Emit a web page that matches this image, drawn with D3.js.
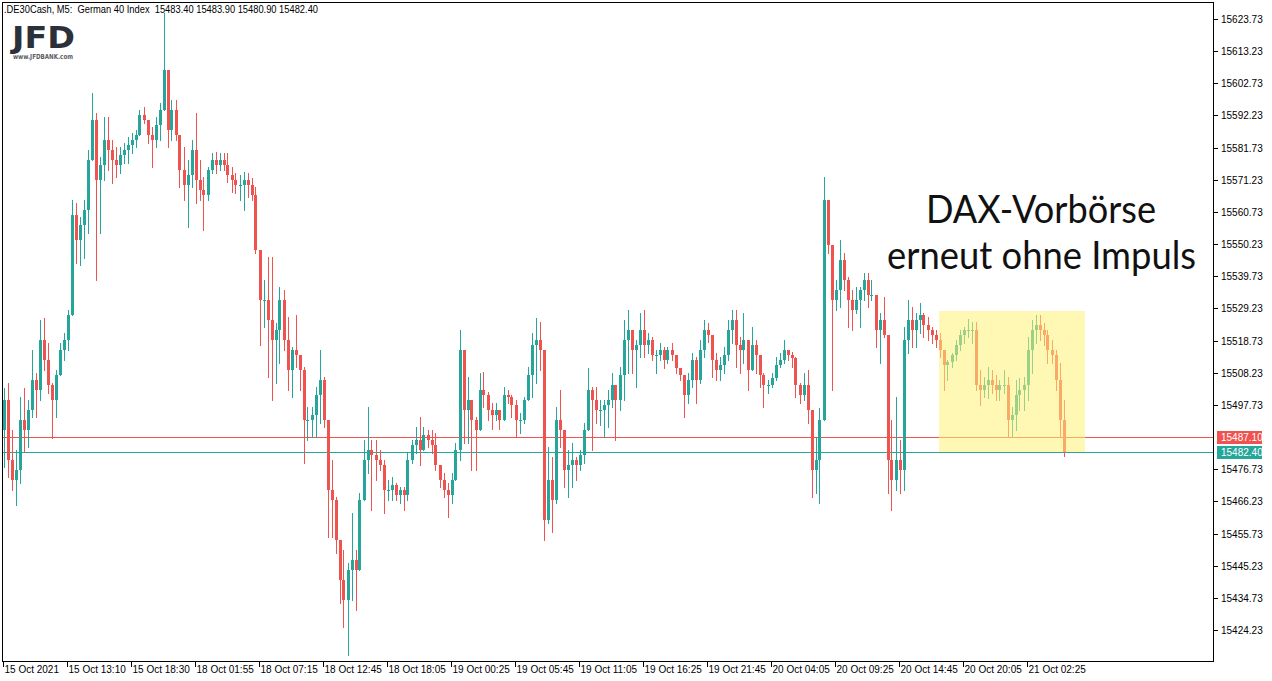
<!DOCTYPE html>
<html><head><meta charset="utf-8">
<script src="https://cdn.jsdelivr.net/npm/d3@7"></script>
<style>body{margin:0;background:#fff;} svg{display:block;}</style>
</head><body><svg id="c" width="1272" height="681"></svg>
<script>
// ---------- data ----------
const timeLabels = ["15 Oct 2021","15 Oct 13:10","15 Oct 18:30","18 Oct 01:55","18 Oct 07:15","18 Oct 12:45","18 Oct 18:05","19 Oct 00:25","19 Oct 05:45","19 Oct 11:05","19 Oct 16:25","19 Oct 21:45","20 Oct 04:05","20 Oct 09:25","20 Oct 14:45","20 Oct 20:05","21 Oct 02:25"];
const timeLabelBars = [0,64,128,192,256,320,384,448,512,576,640,704,768,832,896,960,1024];
const priceTicks = [15623.73,15613.23,15602.73,15592.23,15581.73,15571.23,15560.73,15550.23,15539.73,15529.23,15518.73,15508.23,15497.73,15476.73,15466.23,15455.73,15445.23,15434.73,15424.23];
const barsPerCandle = 4;
const firstOpen = 15489.5;
const highs = [
15503.3,15504.9,15489.5,15483.0,15500.3,15503.3,15499.3,15515.7,15508.1,15525.5,
15526.1,15517.9,15504.9,15509.1,15517.9,15521.2,15528.7,15564.6,15563.6,15559.1,
15564.6,15581.0,15599.5,15593.0,15578.7,15591.7,15591.7,15584.2,15581.9,15581.9,
15583.2,15585.2,15586.5,15587.5,15594.0,15595.0,15590.8,15588.5,15591.7,15596.3,
15625.7,15604.8,15597.3,15597.3,15584.2,15581.9,15577.7,15584.2,15593.0,15577.7,
15572.1,15575.4,15580.0,15580.3,15580.0,15580.0,15580.0,15575.4,15573.4,15572.8,
15573.8,15573.4,15571.8,15568.9,15548.3,15538.5,15546.0,15546.0,15524.5,15536.2,
15535.3,15526.4,15516.6,15527.1,15513.4,15510.1,15497.0,15497.0,15503.6,15515.7,
15506.8,15490.5,15479.7,15467.6,15452.6,15450.4,15446.1,15462.4,15450.4,15468.9,
15486.3,15497.0,15486.3,15486.3,15483.0,15479.7,15473.2,15474.2,15472.2,15470.9,
15470.9,15482.0,15486.3,15490.5,15493.8,15490.5,15489.5,15489.5,15488.5,15477.1,
15475.5,15472.2,15475.5,15485.3,15522.2,15514.7,15506.8,15498.3,15493.8,15508.1,
15508.5,15502.0,15498.3,15498.3,15496.1,15503.6,15502.6,15501.0,15499.3,15495.1,
15500.3,15510.1,15521.2,15526.1,15524.8,15515.7,15484.0,15480.7,15497.0,15502.6,
15487.2,15483.0,15485.3,15480.7,15483.0,15491.8,15509.8,15503.6,15503.6,15499.3,
15499.3,15502.6,15508.1,15503.6,15510.1,15525.5,15528.7,15522.2,15518.9,15527.7,
15528.7,15521.2,15519.9,15515.7,15517.9,15516.6,15516.6,15517.9,15511.4,15509.1,
15504.9,15508.1,15514.7,15513.4,15518.9,15525.5,15524.5,15516.6,15514.7,15513.4,
15516.6,15525.5,15528.7,15528.7,15519.9,15527.7,15516.6,15523.2,15518.9,15512.4,
15508.1,15505.9,15508.1,15513.4,15514.7,15518.9,15514.7,15515.0,15513.4,15504.9,
15508.1,15509.1,15496.1,15487.2,15496.7,15572.1,15564.6,15549.9,15538.5,15551.6,
15547.3,15539.5,15535.3,15536.2,15536.2,15540.8,15540.8,15538.5,15533.6,15527.7,
15532.9,15520.6,15492.8,15500.3,15486.3,15523.2,15532.0,15529.7,15527.7,15531.0,
15527.7,15526.4,15523.2,15522.2,15521.2,15515.7,15512.4,15514.7,15518.9,15522.2,
15523.2,15525.8,15524.8,15524.8,15509.1,15506.8,15510.1,15509.1,15507.5,15505.9,
15509.1,15506.8,15497.0,15505.9,15506.5,15506.8,15519.9,15525.5,15527.1,15527.1,
15524.5,15522.2,15518.9,15515.7,15511.4,15499.3];
const lows = [
15477.4,15474.2,15469.9,15465.1,15472.2,15482.4,15484.0,15493.8,15493.8,15499.3,
15509.1,15501.6,15486.9,15493.8,15509.1,15512.4,15515.7,15529.7,15544.0,15543.4,
15545.7,15553.8,15577.7,15538.5,15553.8,15571.2,15574.4,15570.2,15572.1,15573.4,
15576.7,15576.7,15580.0,15581.9,15586.5,15589.8,15583.2,15575.4,15581.9,15584.2,
15603.8,15581.9,15584.2,15584.2,15568.9,15564.6,15555.8,15568.9,15563.6,15564.6,
15554.8,15564.6,15573.4,15573.4,15574.4,15574.4,15570.5,15567.2,15566.9,15564.6,
15561.4,15565.6,15564.6,15547.3,15517.3,15523.2,15506.8,15499.3,15504.9,15511.4,
15515.7,15502.6,15500.3,15510.1,15502.6,15478.7,15486.3,15487.2,15487.2,15491.8,
15490.5,15454.6,15454.6,15449.4,15433.0,15425.2,15416.1,15434.0,15430.8,15444.8,
15467.6,15475.5,15463.4,15473.2,15476.5,15462.4,15466.7,15466.7,15466.7,15465.7,
15463.4,15466.7,15478.7,15482.0,15478.1,15483.0,15484.0,15482.0,15476.5,15470.9,
15467.6,15461.1,15465.7,15473.2,15479.7,15485.3,15485.3,15476.5,15476.5,15490.5,
15497.0,15492.8,15489.9,15492.8,15489.9,15496.1,15498.3,15493.8,15487.2,15488.5,
15491.8,15499.3,15500.3,15504.9,15509.1,15453.6,15459.1,15456.2,15465.7,15484.0,
15470.9,15467.6,15470.9,15473.2,15476.5,15478.7,15489.5,15483.0,15491.8,15491.2,
15487.2,15490.5,15497.0,15486.3,15496.1,15499.3,15508.1,15508.1,15503.6,15513.4,
15513.4,15514.7,15512.4,15508.1,15512.4,15509.8,15511.4,15512.4,15508.1,15505.9,
15493.8,15498.3,15503.6,15498.3,15504.9,15513.4,15518.3,15506.8,15505.9,15505.9,
15508.1,15512.4,15517.9,15510.1,15508.1,15511.4,15502.6,15513.4,15508.1,15503.6,
15497.0,15501.6,15503.6,15505.9,15510.1,15511.4,15512.4,15510.1,15500.3,15498.3,
15499.3,15491.8,15467.6,15468.9,15465.7,15492.8,15547.3,15502.6,15528.7,15529.7,
15535.3,15523.2,15522.2,15527.7,15523.2,15532.0,15529.7,15532.0,15516.6,15511.4,
15519.9,15468.9,15463.4,15469.9,15468.9,15469.9,15514.7,15516.6,15516.6,15521.2,
15519.9,15518.9,15517.9,15516.6,15513.4,15502.6,15505.9,15510.1,15512.4,15515.7,
15517.9,15519.9,15517.9,15502.6,15497.7,15500.3,15500.0,15501.6,15499.3,15499.3,
15501.6,15487.2,15487.2,15489.5,15496.1,15496.1,15499.3,15508.1,15517.9,15518.9,
15517.3,15511.4,15511.4,15502.6,15487.2,15480.9];
const closes = [
15499.3,15479.7,15473.2,15476.5,15492.8,15489.5,15496.1,15505.9,15502.6,15518.9,
15512.4,15504.3,15499.3,15507.5,15515.7,15518.9,15527.1,15559.8,15551.6,15556.5,
15561.4,15577.7,15590.8,15571.2,15576.1,15584.2,15581.0,15577.7,15576.1,15579.4,
15581.0,15582.6,15584.2,15585.9,15592.4,15590.8,15585.9,15584.2,15589.2,15594.0,
15607.1,15587.5,15594.0,15585.9,15574.4,15569.6,15572.8,15581.0,15571.2,15567.9,
15566.3,15574.4,15577.7,15576.1,15577.7,15576.1,15572.8,15571.2,15569.6,15569.6,
15571.2,15569.6,15566.3,15548.3,15532.0,15532.0,15525.5,15518.9,15522.2,15532.0,
15518.9,15509.1,15515.7,15514.1,15509.1,15492.8,15492.8,15494.5,15501.0,15505.9,
15492.8,15469.9,15466.7,15453.6,15440.6,15434.0,15443.8,15447.1,15443.8,15466.7,
15479.7,15483.0,15481.4,15479.7,15478.1,15469.9,15469.9,15471.6,15468.3,15469.9,
15468.3,15479.7,15484.7,15486.3,15483.0,15487.9,15486.3,15484.7,15478.1,15473.2,
15469.9,15468.3,15473.2,15483.0,15515.7,15496.1,15499.3,15492.8,15489.5,15502.6,
15501.0,15496.1,15494.5,15496.1,15492.8,15501.0,15500.3,15497.7,15492.8,15492.8,
15499.3,15507.5,15517.3,15518.9,15515.7,15460.1,15473.2,15466.7,15492.8,15489.5,
15476.5,15478.1,15479.7,15478.1,15481.4,15489.5,15502.6,15499.3,15496.1,15496.1,
15497.7,15499.3,15504.3,15499.3,15507.5,15518.9,15522.2,15515.7,15517.3,15522.2,
15517.3,15518.9,15514.1,15514.1,15515.7,15512.4,15515.7,15514.1,15509.8,15507.5,
15501.0,15505.9,15512.4,15505.9,15515.7,15522.2,15520.6,15512.4,15509.1,15510.8,
15514.1,15522.2,15525.5,15517.3,15515.7,15518.9,15509.1,15517.3,15514.1,15507.5,
15504.3,15504.3,15506.5,15510.8,15512.4,15515.7,15514.1,15513.1,15504.3,15501.0,
15504.3,15496.1,15476.5,15479.7,15492.8,15564.6,15549.9,15532.0,15535.3,15545.0,
15538.5,15532.0,15528.7,15532.0,15535.3,15538.5,15533.6,15533.6,15522.2,15525.5,
15520.6,15479.7,15473.2,15479.7,15476.5,15518.9,15525.5,15522.2,15525.5,15527.1,
15523.8,15522.2,15520.6,15518.9,15515.7,15510.8,15511.8,15514.1,15517.3,15520.6,
15522.2,15522.2,15522.2,15504.3,15502.6,15504.3,15505.9,15504.3,15502.6,15504.3,
15504.3,15492.8,15494.5,15501.0,15502.6,15504.3,15515.7,15522.2,15523.8,15522.2,
15520.6,15515.7,15514.1,15505.9,15492.8,15482.4];
const askPrice = 15487.10;
const bidPrice = 15482.40;
const boxBars = [936.5, 1082.5];
const boxPrices = [15528.4, 15482.4];
const headerText = ".DE30Cash, M5:  German 40 Index  15483.40 15483.90 15480.90 15482.40";
const noteLines = ["DAX-Vorbörse", "erneut ohne Impuls"];

// ---------- drawing ----------
const UP = "#26a69a", DOWN = "#ef5350";
const svg = d3.select("#c");
const plot = {left: 2.5, top: 2.5, right: 1213.5, bottom: 661.5};
const x = d3.scaleLinear().domain([0, 1211]).range([2.5, 1213.5]);
const y = d3.scaleLinear().domain([15623.73, 15424.23]).range([19, 630]);

svg.append("defs").append("clipPath").attr("id","clip")
  .append("rect").attr("x",plot.left).attr("y",plot.top)
  .attr("width",plot.right-plot.left).attr("height",plot.bottom-plot.top);

const candles = closes.map((c,i)=>{
  const o = i===0 ? firstOpen : closes[i-1];
  return {i, o, c, h: Math.max(highs[i], o, c), l: Math.min(lows[i], o, c)};
});

const g = svg.append("g").attr("clip-path","url(#clip)");

// price lines
g.append("line").attr("x1",plot.left).attr("x2",plot.right)
  .attr("y1",Math.round(y(askPrice))+0.5).attr("y2",Math.round(y(askPrice))+0.5)
  .attr("stroke",DOWN).attr("stroke-width",1);
g.append("line").attr("x1",plot.left).attr("x2",plot.right)
  .attr("y1",Math.round(y(bidPrice))+0.5).attr("y2",Math.round(y(bidPrice))+0.5)
  .attr("stroke",UP).attr("stroke-width",1);

const cg = g.append("g").attr("shape-rendering","crispEdges");
const cx = d => x(d.i*barsPerCandle + 1.5);
cg.selectAll("line.w").data(candles).join("line").attr("class","w")
  .attr("x1",d=>Math.floor(cx(d))+0.5).attr("x2",d=>Math.floor(cx(d))+0.5)
  .attr("y1",d=>Math.round(y(d.h))).attr("y2",d=>Math.round(y(d.l))+1)
  .attr("stroke",d=>d.c>=d.o?UP:DOWN).attr("stroke-width",1);
cg.selectAll("rect.b").data(candles).join("rect").attr("class","b")
  .attr("x",d=>Math.floor(cx(d))-1).attr("width",3)
  .attr("y",d=>Math.round(y(Math.max(d.o,d.c))))
  .attr("height",d=>Math.max(1, Math.round(y(Math.min(d.o,d.c))) - Math.round(y(Math.max(d.o,d.c)))))
  .attr("fill",d=>d.c>=d.o?UP:DOWN);

// highlight rectangle (semi transparent over candles)
g.append("rect")
  .attr("x",Math.round(x(boxBars[0]))).attr("y",Math.round(y(boxPrices[0])))
  .attr("width",Math.round(x(boxBars[1]))-Math.round(x(boxBars[0])))
  .attr("height",Math.round(y(boxPrices[1]))-Math.round(y(boxPrices[0])))
  .attr("fill","rgb(255,242,120)").attr("fill-opacity",0.55);

// frame
svg.append("rect").attr("x",plot.left).attr("y",plot.top)
  .attr("width",plot.right-plot.left).attr("height",plot.bottom-plot.top)
  .attr("fill","none").attr("stroke","#000").attr("stroke-width",1)
  .attr("shape-rendering","crispEdges");

// price axis
const ya = svg.append("g").attr("font-family","'Liberation Sans', Arial, sans-serif").attr("font-size",10);
priceTicks.forEach(p=>{
  const yy = Math.round(y(p))+0.5;
  ya.append("line").attr("x1",plot.right).attr("x2",plot.right+4).attr("y1",yy).attr("y2",yy)
    .attr("stroke","#000").attr("shape-rendering","crispEdges");
  ya.append("text").attr("x",1221).attr("y",yy+3.5).attr("fill","#000").text(p.toFixed(2));
});
[[askPrice,DOWN],[bidPrice,UP]].forEach(([p,col])=>{
  const yy = Math.round(y(p));
  ya.append("rect").attr("x",1217).attr("y",yy-6).attr("width",45).attr("height",13).attr("fill",col);
  ya.append("text").attr("x",1221).attr("y",yy+4).attr("fill","#fff").text(p.toFixed(2));
});

// time axis
const xa = svg.append("g").attr("font-family","'Liberation Sans', Arial, sans-serif").attr("font-size",10);
timeLabels.forEach((t,i)=>{
  const xx = Math.round(x(timeLabelBars[i]))+0.5;
  xa.append("line").attr("x1",xx).attr("x2",xx).attr("y1",plot.bottom).attr("y2",plot.bottom+5)
    .attr("stroke","#000").attr("shape-rendering","crispEdges");
  xa.append("text").attr("x",xx+1).attr("y",673).attr("fill","#000").text(t);
});

// header
svg.append("text").attr("x",4).attr("y",13).attr("font-family","'Liberation Sans', Arial, sans-serif")
  .attr("font-size",11).attr("fill","#000").style("white-space","pre")
  .attr("textLength",314).attr("lengthAdjust","spacingAndGlyphs").text(headerText);

// logo
const logo = svg.append("g");
logo.append("text").attr("x",12).attr("y",48).attr("font-family","'DejaVu Sans', sans-serif")
  .attr("font-weight","bold").attr("font-size",31).attr("fill","#2c3039")
  .attr("textLength",63).attr("lengthAdjust","spacingAndGlyphs").text("JFD");
logo.append("text").attr("x",13).attr("y",59).attr("font-family","'DejaVu Sans', sans-serif")
  .attr("font-weight","bold").attr("font-size",7).attr("fill","#5a5d63")
  .attr("textLength",60).attr("lengthAdjust","spacingAndGlyphs").text("www.JFDBANK.com");

// annotation
const note = svg.append("g").attr("font-family","Lato, 'Open Sans', sans-serif").attr("font-size",38).attr("fill","#111");
note.append("text").attr("x",1041).attr("y",223).attr("text-anchor","middle")
  .attr("textLength",230).attr("lengthAdjust","spacingAndGlyphs").text(noteLines[0]);
note.append("text").attr("x",1041.5).attr("y",269).attr("text-anchor","middle")
  .attr("textLength",309).attr("lengthAdjust","spacingAndGlyphs").text(noteLines[1]);
</script></body></html>
